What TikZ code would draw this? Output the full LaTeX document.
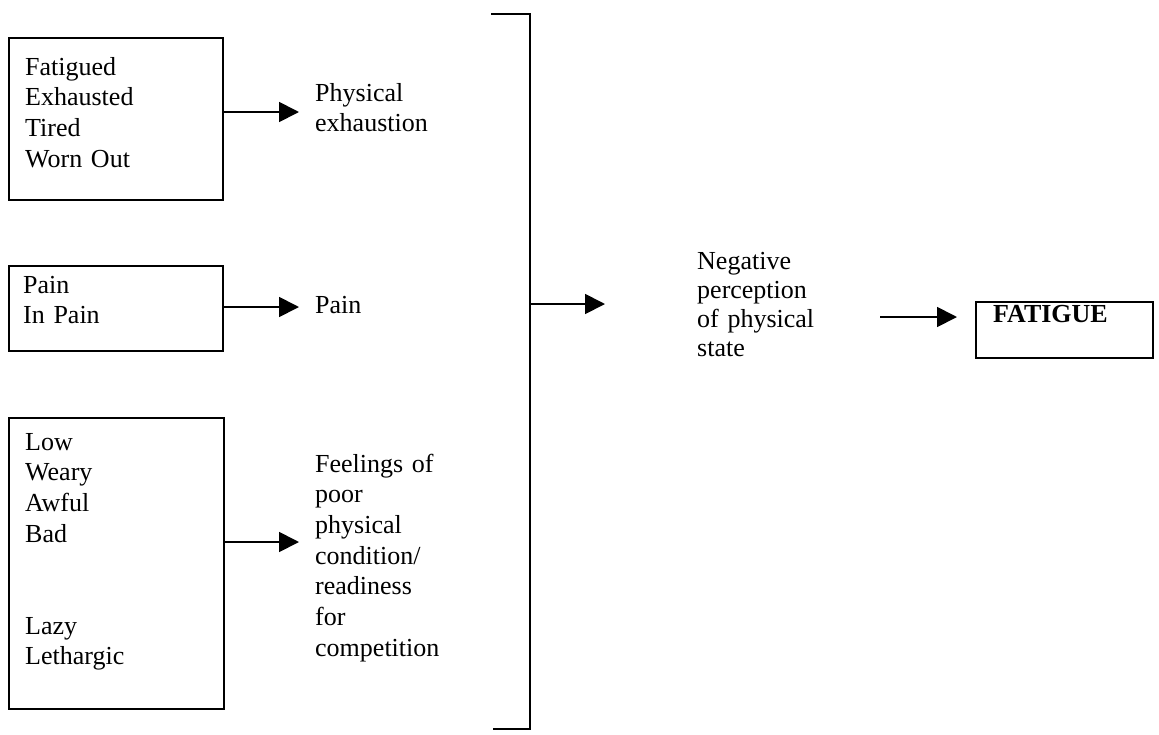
\documentclass[tikz,border=0pt]{standalone}
\usepackage{fontspec}
\setmainfont{Liberation Serif}
\usetikzlibrary{arrows.meta}
\begin{document}
\begin{tikzpicture}[x=1pt,y=-1pt,
  box/.style={draw,line width=2pt,inner sep=0pt,anchor=north west},
  words/.style={anchor=base west,inner sep=0pt,align=left,text width=220pt,
    font=\fontsize{26}{30.7}\selectfont},
  arr/.style={line width=1.8pt,-{Triangle[length=20pt,width=20pt]}},
  bracket/.style={line width=2.6pt,line cap=butt}]
  \useasboundingbox (0,0) rectangle (1159,734);

  % word groups
  \node[box,minimum width=214pt,minimum height=162pt] (b1) at (8,37) {};
  \node[words] (w1) at (25,75) {Fatigued\\Exhausted\\Tired\\Worn Out};
  \node[box,minimum width=214pt,minimum height=85pt] (b2) at (8,265) {};
  \node[words] (w2) at (23,293) {Pain\\In Pain};
  \node[box,minimum width=215pt,minimum height=291pt] (b3) at (8,417) {};
  \node[words] (w3) at (25,450) {Low\\Weary\\Awful\\Bad\\[61.4pt]Lazy\\Lethargic};

  % categories
  \node[words] (c1) at (315,101) {Physical\\exhaustion};
  \node[words] (c2) at (315,313) {Pain};
  \node[words] (c3) at (315,472) {Feelings of\\poor\\physical\\condition/\\readiness\\for\\competition};

  \coordinate (t1) at (299,112);
  \coordinate (t2) at (299,307);
  \coordinate (t3) at (299,542);
  \draw[arr] (t1 -| b1.east) -- (t1);
  \draw[arr] (t2 -| b2.east) -- (t2);
  \draw[arr] (t3 -| b3.east) -- (t3);

  % grouping bracket
  \coordinate (brtop) at (530,14);
  \coordinate (brbot) at (530,729);
  \coordinate (brmid) at (530,304);
  \draw[bracket] (491,14) -- (brtop) -- (brbot) -- (493,729);

  \node[words,font=\fontsize{26}{29}\selectfont] (neg) at (697,269)
    {Negative\\perception\\of physical\\state};
  \coordinate (negin) at (605,304);
  \draw[arr] (brmid) -- (negin);

  % outcome
  \node[box,minimum width=177pt,minimum height=56pt] (fat) at (975,301) {};
  \node[anchor=base west,inner sep=0pt,font=\fontsize{26}{30}\selectfont\bfseries] (fatw) at (993,322) {FATIGUE};
  \coordinate (fatout) at (880,317);
  \coordinate (fatin) at (957,317);
  \draw[arr] (fatout) -- (fatin);
\end{tikzpicture}
\end{document}
